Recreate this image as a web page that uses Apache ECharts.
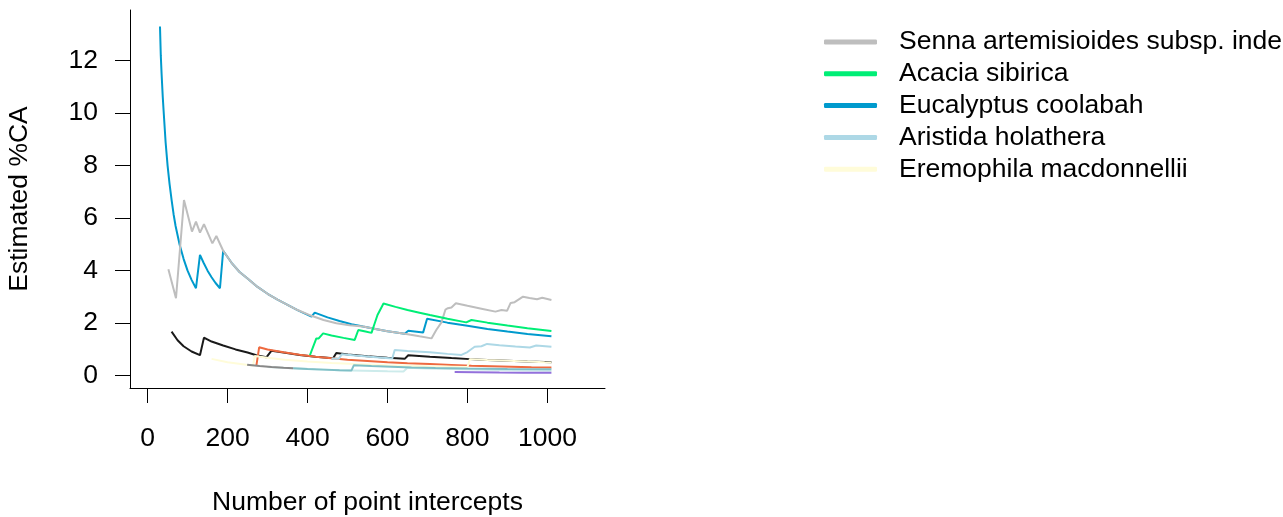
<!DOCTYPE html>
<html>
<head>
<meta charset="utf-8">
<script src="https://cdn.jsdelivr.net/npm/echarts@6/dist/echarts.min.js"></script>
<style>
html,body{margin:0;padding:0;background:#fff;}
#chart{width:1283px;height:517px;}
</style>
</head>
<body>
<div id="chart"></div>
<script>
// ---- data (number of point intercepts, estimated %CA) ----
var xTicks = [0, 200, 400, 600, 800, 1000];
var yTicks = [0, 2, 4, 6, 8, 10, 12];
var legendNames = ['Senna artemisioides subsp. inde', 'Acacia sibirica', 'Eucalyptus coolabah', 'Aristida holathera', 'Eremophila macdonnellii'];

var eucalyptus = [[31,13.3],[33,12.2],[35,11.5],[38,10.6],[40,10.1],[45,8.9],[50,8.0],[55,7.3],[60,6.7],[65,6.15],[70,5.7],[80,5.0],[90,4.45],[100,4.0],[110,3.65],[121,3.33],[131,4.6],[140,4.3],[150,4.0],[160,3.75],[170,3.53],[181,3.33],[189,4.76],[210,4.3],[230,3.95],[250,3.7],[275,3.38],[300,3.12],[325,2.9],[350,2.7],[375,2.5],[410,2.25],[418,2.4],[450,2.22],[480,2.08],[510,1.96],[539,1.87],[570,1.78],[600,1.69],[643,1.6],[652,1.71],[689,1.64],[699,2.17],[750,2.02],[800,1.9],[850,1.78],[900,1.68],[950,1.59],[1010,1.5]];
var senna = [[52,4.05],[71,2.95],[91,6.69],[111,5.49],[121,5.87],[131,5.45],[141,5.77],[162,5.04],[172,5.32],[189,4.76],[210,4.3],[230,3.95],[250,3.7],[275,3.38],[300,3.12],[325,2.9],[350,2.7],[375,2.5],[410,2.28],[440,2.12],[472,2.0],[505,1.92],[539,1.87],[570,1.78],[600,1.69],[643,1.6],[680,1.5],[710,1.42],[722,1.74],[735,2.03],[745,2.52],[751,2.57],[760,2.6],[771,2.76],[800,2.66],[835,2.55],[870,2.44],[885,2.5],[899,2.47],[908,2.77],[918,2.8],[939,3.01],[955,2.96],[974,2.91],[987,2.97],[1010,2.88]];
var acacia = [[405,0.74],[410,0.73],[422,1.42],[428,1.42],[439,1.61],[460,1.53],[490,1.44],[518,1.36],[527,1.74],[545,1.68],[560,1.63],[567,1.95],[575,2.31],[590,2.75],[620,2.62],[650,2.5],[680,2.4],[706,2.31],[750,2.17],[797,2.03],[810,2.12],[850,2.02],[900,1.91],[950,1.81],[1010,1.7]];
var blackSp = [[60,1.68],[75,1.35],[90,1.12],[110,0.92],[131,0.78],[141,1.45],[160,1.3],[189,1.15],[220,1.0],[250,0.88],[272,0.78],[297,0.7],[310,0.95],[340,0.88],[380,0.79],[420,0.72],[464,0.66],[472,0.86],[501,0.81],[550,0.74],[600,0.68],[643,0.64],[652,0.78],[706,0.72],[760,0.67],[806,0.63],[850,0.6],[900,0.57],[950,0.54],[993,0.52],[1010,0.51]];
var orangeSp = [[272,0.37],[279,1.08],[300,1.0],[340,0.89],[380,0.8],[420,0.72],[460,0.66],[500,0.61],[550,0.56],[600,0.51],[650,0.47],[706,0.44],[760,0.41],[810,0.38],[860,0.36],[910,0.34],[960,0.32],[1010,0.31]];
var aristida = [[460,0.65],[478,0.64],[486,0.82],[520,0.77],[556,0.72],[580,0.69],[612,0.65],[618,0.98],[650,0.94],[706,0.89],[750,0.83],[785,0.79],[800,0.9],[818,1.1],[835,1.12],[849,1.21],[880,1.16],[920,1.11],[956,1.07],[972,1.15],[1010,1.1]];
var eremophila = [[160,0.64],[200,0.51],[247,0.42],[264,0.39],[268,0.75],[300,0.68],[343,0.61],[400,0.54],[460,0.48],[520,0.44],[600,0.4],[700,0.36],[800,0.33],[806,0.63],[850,0.6],[900,0.57],[950,0.54],[993,0.51],[1010,0.5]];
var lightCyanSp = [[300,0.33],[360,0.28],[420,0.24],[480,0.21],[540,0.19],[600,0.17],[640,0.16],[650,0.3],[700,0.27],[760,0.25],[820,0.23],[900,0.21],[1010,0.19]];
var tealSp = [[364,0.28],[400,0.25],[440,0.23],[480,0.21],[510,0.2],[516,0.4],[560,0.37],[610,0.34],[660,0.31],[720,0.29],[800,0.27],[900,0.25],[1010,0.24]];
var darkGraySp = [[249,0.42],[280,0.37],[310,0.33],[340,0.3],[364,0.28]];
var purpleSp = [[768,0.14],[820,0.13],[880,0.12],[940,0.115],[1010,0.11]];

var seriesDefs = [
  {name: 'Eucalyptus coolabah', data: eucalyptus, color: '#009ACD'},
  {name: 'Senna artemisioides subsp. inde', data: senna, color: '#BEBEBE'},
  {name: 'Acacia sibirica', data: acacia, color: '#00EE76'},
  {name: 'other1', data: blackSp, color: '#1A1A1A'},
  {name: 'other2', data: orangeSp, color: '#EE6A40'},
  {name: 'Aristida holathera', data: aristida, color: '#ADD8E6'},
  {name: 'Eremophila macdonnellii', data: eremophila, color: '#FFFCD9'},
  {name: 'other3', data: lightCyanSp, color: '#CDEBEB'},
  {name: 'other4', data: tealSp, color: '#7FBFC6'},
  {name: 'other5', data: darkGraySp, color: '#888888'},
  {name: 'other6', data: purpleSp, color: '#9370DB'}
];

var FONT = 'Liberation Sans, Arial, Helvetica, sans-serif';
var FS = 26.5;
var chart = echarts.init(document.getElementById('chart'));
chart.setOption({
  animation: false,
  backgroundColor: '#ffffff',
  grid: {left: 130, right: 678, top: 10, bottom: 129, containLabel: false, outerBoundsMode: 'none'},
  legend: {
    data: legendNames,
    orient: 'vertical',
    left: 824,
    top: 27,
    padding: 0,
    itemWidth: 53,
    itemHeight: 5,
    itemGap: 1.8,
    icon: 'roundRect',
    selectedMode: false,
    textStyle: {fontFamily: FONT, fontSize: FS, color: '#000', lineHeight: 30, padding: [0, 0, 0, 17]}
  },
  xAxis: {
    type: 'value', min: -44, max: 1144,
    name: 'Number of point intercepts', nameLocation: 'middle', nameGap: 101,
    nameTextStyle: {fontFamily: FONT, fontSize: FS, color: '#000'},
    axisLine: {show: true, onZero: false, lineStyle: {color: '#000', width: 1}},
    axisTick: {show: true, length: 15, customValues: xTicks, lineStyle: {color: '#000', width: 1}},
    axisLabel: {customValues: xTicks, margin: 37, fontFamily: FONT, fontSize: FS, color: '#000',
      formatter: function (v) { return String(v); }},
    splitLine: {show: false}
  },
  yAxis: {
    type: 'value', min: -0.47, max: 13.93,
    name: 'Estimated %CA', nameLocation: 'middle', nameGap: 97, nameRotate: 90,
    nameTextStyle: {fontFamily: FONT, fontSize: FS, color: '#000'},
    axisLine: {show: true, onZero: false, lineStyle: {color: '#000', width: 1}},
    axisTick: {show: true, length: 15, customValues: yTicks, lineStyle: {color: '#000', width: 1}},
    axisLabel: {customValues: yTicks, margin: 32, fontFamily: FONT, fontSize: FS, color: '#000',
      formatter: function (v) { return String(v); }},
    splitLine: {show: false}
  },
  series: seriesDefs.map(function (s) {
    return {
      name: s.name, type: 'line', data: s.data, showSymbol: false, symbol: 'none',
      silent: true, color: s.color,
      lineStyle: {color: s.color, width: 2}
    };
  })
});
</script>
</body>
</html>
